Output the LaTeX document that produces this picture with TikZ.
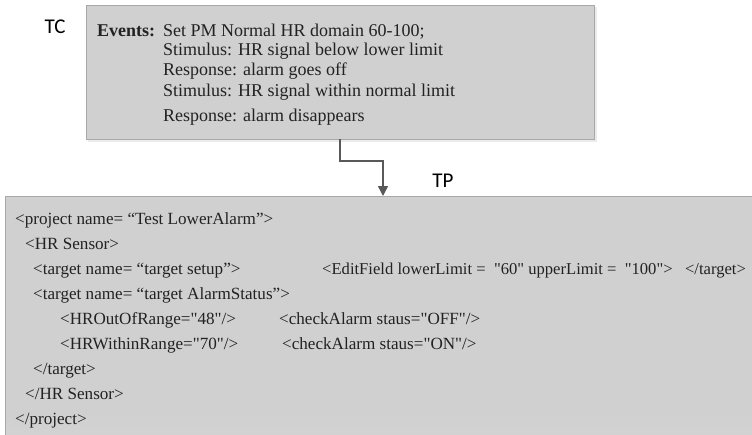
\documentclass[tikz,border=0pt]{standalone}
\usepackage{fontspec}
\setmainfont{Liberation Serif}
\newfontfamily\lblfont{Carlito}
\usetikzlibrary{arrows.meta}
\definecolor{boxfill}{HTML}{D0D0D0}
\definecolor{boxfillb}{HTML}{E0E0E0}
\definecolor{boxline}{HTML}{A8A8A8}
\definecolor{txt}{HTML}{222222}
\definecolor{conncol}{HTML}{595959}
\newcommand\qq{\textquotedbl}
\pgfdeclareverticalshading{tpshade}{100bp}{color(0bp)=(boxfillb); color(30bp)=(boxfill); color(100bp)=(boxfill)}
\tikzset{
  tcbox/.style={draw=boxline, line width=1pt, fill=boxfill, inner sep=0pt, outer sep=0pt},
  tpboxstyle/.style={draw=boxline, line width=1pt, shading=tpshade, inner sep=0pt, outer sep=0pt},
  line/.style={anchor=base west, inner sep=0pt, text=txt, font=\fontsize{18}{20}\selectfont},
  xml/.style={anchor=base west, inner sep=0pt, text=txt, font=\fontsize{17.1}{19}\selectfont},
  xmlnarrow/.style={xml, font=\fontsize{16.6}{19}\selectfont},
  lbl/.style={inner sep=0pt, text=black, font=\lblfont\fontsize{21}{23}\selectfont},
  conn/.style={draw=conncol, line width=1.5pt, -{Triangle[length=10pt,width=10pt]}}
}
\begin{document}
\begin{tikzpicture}[x=1pt,y=-1pt]
\clip (0,0) rectangle (752,434);
\fill[white] (0,0) rectangle (752,434);
% TC box with soft shadow
\fill[black!8] (88,7) rectangle (597,142);
\node[tcbox, minimum width=508pt, minimum height=134pt, anchor=north west] (tcbox) at (86,5) {};
\node[lbl] (tc) at (55,27) {TC};
\node[line] (ev) at (97,36) {\textbf{Events:}};
\node[line] (e1) at (163,36) {Set PM Normal HR domain 60-100;};
\node[line] (e2) at (163,55) {Stimulus: HR signal below lower limit};
\node[line] (e3) at (163,75) {Response: alarm goes off};
\node[line] (e4) at (163,96) {Stimulus: HR signal within normal limit};
\node[line] (e5) at (163,121) {Response: alarm disappears};
% TP box
\node[tpboxstyle, minimum width=770pt, minimum height=240pt, anchor=north west] (tpbox) at (5,196) {};
\node[lbl] (tp) at (443,181) {TP};
% connector
\coordinate (j1) at (340,161);
\coordinate (j2) at (383,161);
\draw[conn] (tcbox.south -| j1) -- (j1) -- (j2) -- (tpbox.north -| j2);
% XML text
\node[xml] (x1) at (15,224) {<project name= “Test LowerAlarm”>};
\node[xml] (x2) at (25,249) {<HR Sensor>};
\node[xml] (x3) at (33,274) {<target name= “target setup”>};
\node[xmlnarrow] (x3b) at (322,274) {<EditField lowerLimit =\ \ \qq60\qq\ upperLimit =\ \ \qq100\qq>\ \ \ </target>};
\node[xml] (x4) at (33,299) {<target name= “target AlarmStatus”>};
\node[xml] (x5) at (60,324) {<HROutOfRange=\qq48\qq/>};
\node[xml] (x5b) at (279,324) {<checkAlarm staus=\qq OFF\qq/>};
\node[xml] (x6) at (60,349) {<HRWithinRange=\qq70\qq/>};
\node[xml] (x6b) at (282,349) {<checkAlarm staus=\qq ON\qq/>};
\node[xml] (x7) at (33,374) {</target>};
\node[xml] (x8) at (25,399) {</HR Sensor>};
\node[xml] (x9) at (15,424) {</project>};
\end{tikzpicture}
\end{document}
